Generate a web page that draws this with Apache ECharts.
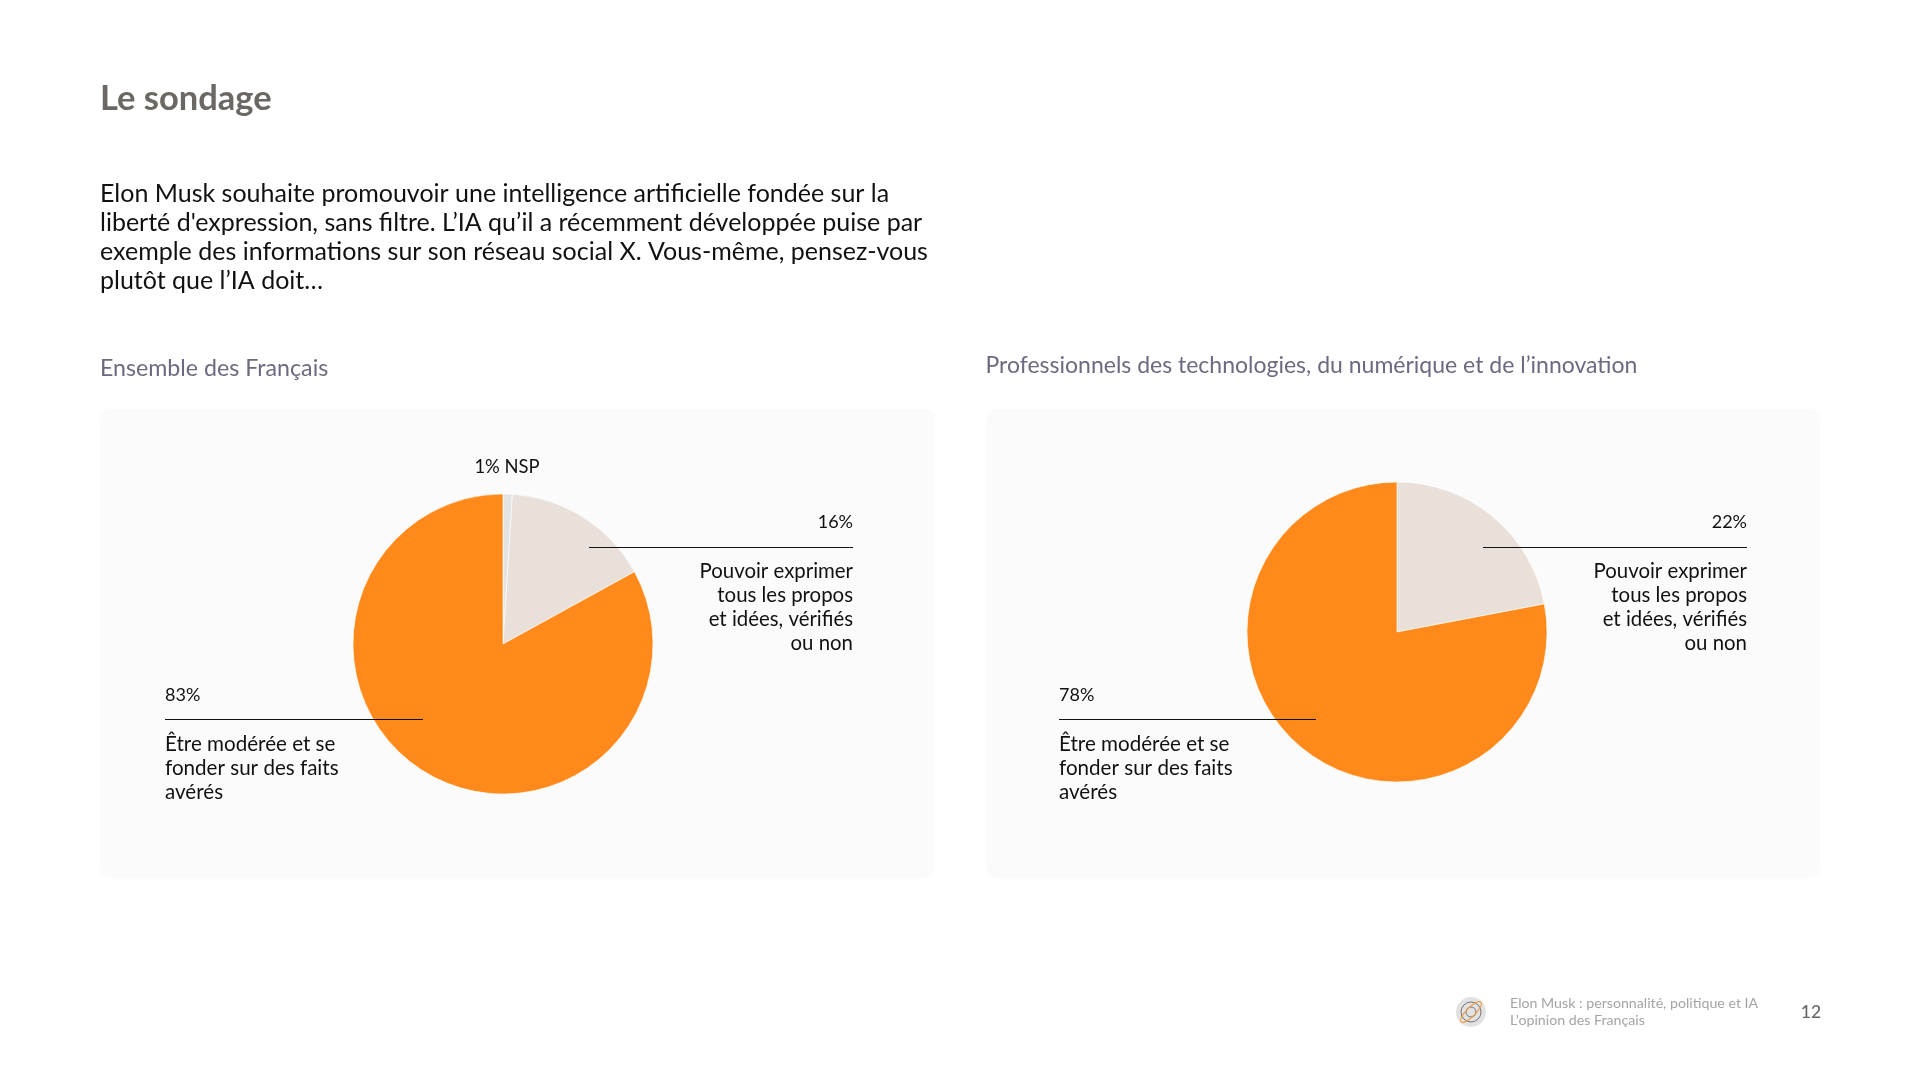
<!DOCTYPE html>
<html lang="fr"><head><meta charset="utf-8"><title>Le sondage</title>
<style>html,body{margin:0;padding:0;background:#fff}#c{width:1920px;height:1080px}</style>
<script src="https://cdn.jsdelivr.net/npm/echarts@6/dist/echarts.min.js"></script></head>
<body><div id="c"></div>
<script>
const categories = ['NSP', 'Pouvoir exprimer tous les propos et idées, vérifiés ou non', 'Être modérée et se fonder sur des faits avérés'];
const valuesFrancais = [1, 16, 83];
const valuesPros = [0, 22, 78];
const colors = ['#E3E3E3', '#EAE0DA', '#FF8A1B'];
const questionLines = [
  "Elon Musk souhaite promouvoir une intelligence artificielle fondée sur la",
  "liberté d'expression, sans filtre. L’IA qu’il a récemment développée puise par",
  "exemple des informations sur son réseau social X. Vous-même, pensez-vous",
  "plutôt que l’IA doit…"
];
const labelTop = ['Pouvoir exprimer', 'tous les propos', 'et idées, vérifiés', 'ou non'];
const labelBottom = ['Être modérée et se', 'fonder sur des faits', 'avérés'];
const footerLines = ['Elon Musk : personnalité, politique et IA', 'L’opinion des Français'];

const FONT = 'Lato';
const txt = (x, y, text, size, color, align, weight) => ({
  type: 'text', x, y, z: 20,
  style: { text, fontFamily: FONT, fontSize: size, fill: color, align: align || 'left', verticalAlign: 'middle', fontWeight: weight || 400 }
});
const rule = (x1, x2, y) => ({ type: 'line', z: 20, shape: { x1, y1: y, x2, y2: y }, style: { stroke: '#111', lineWidth: 1 } });
const panel = (x, w) => ({ type: 'rect', z: -1, shape: { x, y: 409, width: w, height: 469, r: 10 }, style: { fill: '#FBFBFB' } });

const g = [
  panel(100, 835), panel(986, 834),
  txt(100, 99, 'Le sondage', 34.5, '#6B6864', 'left', 700),
  txt(100, 369, 'Ensemble des Français', 23.2, '#6C6A80'),
  txt(985.5, 366, 'Professionnels des technologies, du numérique et de l’innovation', 23, '#6C6A80'),
  txt(507, 467, '1% NSP', 18.4, '#111', 'center'),
];
questionLines.forEach((t, i) => g.push(txt(100, 194 + i * 29, t, 25, '#111')));
[[853, 589, 165, 423, '16%', '83%'], [1747, 1483, 1059, 1316, '22%', '78%']].forEach(([rx, rl, lx, lr, a, b]) => {
  g.push(txt(rx, 522.5, a, 18, '#111', 'right'), rule(rl, rx, 547.5));
  labelTop.forEach((t, i) => g.push(txt(rx, 571 + i * 24.2, t, 20.4, '#111', 'right')));
  g.push(txt(lx, 695, b, 18, '#111'), rule(lx, lr, 719.5));
  labelBottom.forEach((t, i) => g.push(txt(lx, 744 + i * 24.4, t, 20.6, '#111')));
});
footerLines.forEach((t, i) => g.push(txt(1510, 1003 + i * 17, t, 14.2, '#A4A4A4')));
g.push(txt(1811, 1012, '12', 17.5, '#666', 'center', 500));
g.push({ type: 'circle', z: 10, shape: { cx: 1471, cy: 1012, r: 15 }, style: { fill: '#E2E2E2' } });
g.push({ type: 'circle', z: 11, shape: { cx: 1471, cy: 1012, r: 10 }, style: { fill: 'none', stroke: '#777', lineWidth: 1 } });
g.push({ type: 'circle', z: 11, shape: { cx: 1471, cy: 1012, r: 5 }, style: { fill: 'none', stroke: '#777', lineWidth: 1 } });
g.push({ type: 'ellipse', z: 12, rotation: Math.PI / 4, x: 1471, y: 1012, shape: { cx: 0, cy: 0, rx: 14, ry: 4.5 }, style: { fill: 'none', stroke: '#F39A3C', lineWidth: 1 } });

const pie = (center, values) => ({
  type: 'pie', center, radius: [0, 150], startAngle: 90, clockwise: true, animation: false, silent: true,
  label: { show: false }, labelLine: { show: false }, minAngle: 0,
  itemStyle: { borderColor: '#fff', borderWidth: 0.6 },
  data: categories.map((name, i) => ({ name, value: values[i], itemStyle: { color: colors[i] } })).filter(d => d.value > 0)
});

const chart = echarts.init(document.getElementById('c'), null, { renderer: 'canvas' });
chart.setOption({
  backgroundColor: '#fff', animation: false,
  series: [pie([503, 644], valuesFrancais), pie([1397, 632], valuesPros)],
  graphic: { elements: g }
});
</script></body></html>
